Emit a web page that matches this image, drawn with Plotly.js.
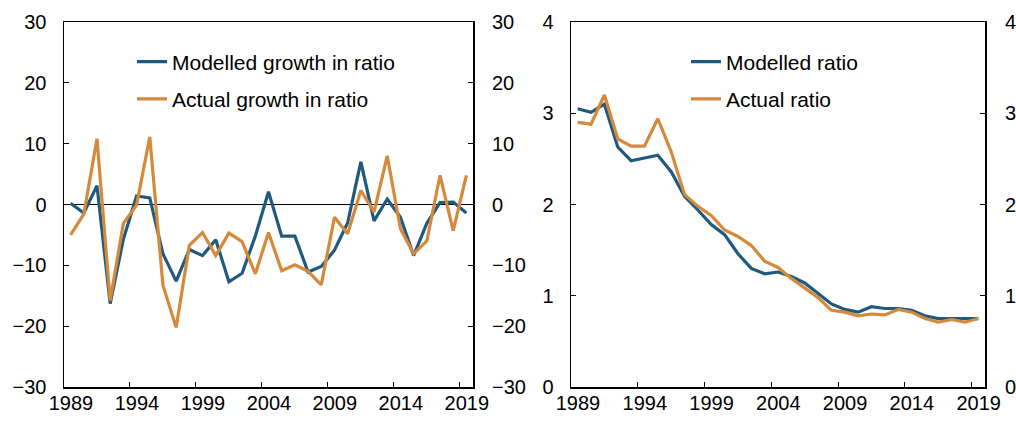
<!DOCTYPE html>
<html>
<head>
<meta charset="utf-8">
<script src="https://cdn.plot.ly/plotly-3.0.1.min.js"></script>
<style>
  html, body { margin: 0; padding: 0; background: #fff; }
  #chart { width: 1016px; height: 423px; }
</style>
</head>
<body>
<div id="chart"></div>
<script>
// Categories (years)
const years = [1989, 1990, 1991, 1992, 1993, 1994, 1995, 1996, 1997, 1998,
               1999, 2000, 2001, 2002, 2003, 2004, 2005, 2006, 2007, 2008,
               2009, 2010, 2011, 2012, 2013, 2014, 2015, 2016, 2017, 2018, 2019];

// Left panel: growth in ratio (per cent)
const modelledGrowth = [0.2, -1.4, 3.1, -16.3, -5.7, 1.4, 1.1, -8.1, -12.6, -7.4,
                        -8.4, -5.8, -12.7, -11.3, -5.2, 2.1, -5.2, -5.2, -11.1, -10.2,
                        -7.5, -3.0, 7.0, -2.7, 0.9, -2.1, -8.4, -3.1, 0.3, 0.4, -1.4];
const actualGrowth = [-5.0, -1.6, 10.8, -15.8, -3.1, -0.1, 11.1, -13.3, -20.2, -6.7,
                      -4.6, -8.4, -4.7, -6.1, -11.4, -4.6, -10.9, -9.9, -11.0, -13.2,
                      -2.1, -4.8, 2.3, -1.2, 8.0, -4.0, -8.1, -6.0, 4.8, -4.3, 4.8];

// Right panel: ratio level
const modelledRatio = [3.05, 3.01, 3.10, 2.63, 2.48, 2.51, 2.54, 2.36, 2.09, 1.94,
                       1.78, 1.67, 1.46, 1.30, 1.24, 1.26, 1.21, 1.14, 1.02, 0.91,
                       0.85, 0.82, 0.88, 0.86, 0.86, 0.84, 0.78, 0.75, 0.75, 0.75, 0.75];
const actualRatio = [2.90, 2.88, 3.20, 2.72, 2.64, 2.64, 2.94, 2.58, 2.11, 1.98,
                     1.88, 1.72, 1.65, 1.55, 1.38, 1.31, 1.19, 1.09, 0.98, 0.84,
                     0.82, 0.78, 0.80, 0.79, 0.85, 0.82, 0.75, 0.71, 0.74, 0.71, 0.75];

// Tick labels
const xTickLabels = ['1989', '1994', '1999', '2004', '2009', '2014', '2019'];
const xTickYears = [1989, 1994, 1999, 2004, 2009, 2014, 2019];
const leftYTicks = [-30, -20, -10, 0, 10, 20, 30];
const rightYTicks = [0, 1, 2, 3, 4];

const BLUE = '#1F5A7E';
const ORANGE = '#D4893B';
const FONT = 'Arial, "Liberation Sans", sans-serif';
const W = 1016;

// tick marks sit between categories
const xTickPos = xTickYears.map(y => y - 0.5);

const traces = [
  { x: years, y: modelledGrowth, name: 'Modelled growth in ratio', type: 'scatter', mode: 'lines',
    line: { color: BLUE, width: 3.2 }, xaxis: 'x', yaxis: 'y', legend: 'legend', legendgroup: 'a' },
  { x: years, y: actualGrowth, name: 'Actual growth in ratio', type: 'scatter', mode: 'lines',
    line: { color: ORANGE, width: 3.2 }, xaxis: 'x', yaxis: 'y', legend: 'legend', legendgroup: 'b' },
  { x: years, y: modelledRatio, name: 'Modelled ratio', type: 'scatter', mode: 'lines',
    line: { color: BLUE, width: 3.2 }, xaxis: 'x2', yaxis: 'y3', legend: 'legend2', legendgroup: 'c' },
  { x: years, y: actualRatio, name: 'Actual ratio', type: 'scatter', mode: 'lines',
    line: { color: ORANGE, width: 3.2 }, xaxis: 'x2', yaxis: 'y3', legend: 'legend2', legendgroup: 'd' },
  // invisible carriers so the mirrored right-hand axes get drawn
  { x: years, y: actualGrowth, type: 'scatter', mode: 'lines', line: { color: 'rgba(0,0,0,0)', width: 0 },
    xaxis: 'x', yaxis: 'y2', showlegend: false, hoverinfo: 'skip' },
  { x: years, y: actualRatio, type: 'scatter', mode: 'lines', line: { color: 'rgba(0,0,0,0)', width: 0 },
    xaxis: 'x2', yaxis: 'y4', showlegend: false, hoverinfo: 'skip' }
];

const xCommon = {
  range: [years[0] - 0.5, years[years.length - 1] + 0.5],
  tickmode: 'array', tickvals: xTickPos, ticktext: xTickLabels,
  ticks: 'inside', ticklen: 5, tickwidth: 1, tickcolor: '#000',
  showline: true, linecolor: '#000', linewidth: 1.5, mirror: true,
  showgrid: false, zeroline: false,
  tickfont: { family: FONT, size: 20, color: '#000' },
  ticklabelstandoff: -3,
  fixedrange: true
};
const yCommon = {
  ticks: 'inside', ticklen: 5, tickwidth: 1, tickcolor: '#000',
  showgrid: false,
  tickfont: { family: FONT, size: 20, color: '#000' },
  ticklabelstandoff: 12,
  fixedrange: true
};

const d1 = [64 / W, 473 / W];
const d2 = [571 / W, 985 / W];

const layout = {
  width: 1016, height: 423,
  margin: { l: 0, r: 0, t: 22, b: 36 },
  paper_bgcolor: '#fff', plot_bgcolor: '#fff',
  font: { family: FONT, color: '#000' },
  showlegend: true,
  xaxis: Object.assign({}, xCommon, { domain: d1, anchor: 'y', ticklabelshift: 7 }),
  xaxis2: Object.assign({}, xCommon, { domain: d2, anchor: 'y3', ticklabelshift: 7 }),
  yaxis: Object.assign({}, yCommon, {
    domain: [0, 1], anchor: 'x', range: [-30, 30], tickmode: 'array', tickvals: leftYTicks,
    showline: true, linecolor: '#000', linewidth: 1.5, mirror: true,
    zeroline: true, zerolinecolor: '#000', zerolinewidth: 1.5
  }),
  yaxis2: Object.assign({}, yCommon, {
    overlaying: 'y', side: 'right', anchor: 'x', range: [-30, 30], tickmode: 'array', tickvals: leftYTicks,
    showline: false, zeroline: false, ticklabelstandoff: 18
  }),
  yaxis3: Object.assign({}, yCommon, {
    domain: [0, 1], anchor: 'x2', range: [0, 4], tickmode: 'array', tickvals: rightYTicks,
    showline: true, linecolor: '#000', linewidth: 1.5, mirror: true, zeroline: false
  }),
  yaxis4: Object.assign({}, yCommon, {
    overlaying: 'y3', side: 'right', anchor: 'x2', range: [0, 4], tickmode: 'array', tickvals: rightYTicks,
    showline: false, zeroline: false, ticklabelstandoff: 19
  }),
  legend: {
    x: 132 / W, xanchor: 'left', y: 1 - (41.5 - 22) / 365, yanchor: 'top', yref: 'paper',
    bgcolor: 'rgba(0,0,0,0)', borderwidth: 0,
    font: { family: FONT, size: 21, color: '#000' },
    traceorder: 'grouped', tracegroupgap: 7
  },
  legend2: {
    x: 686 / W, xanchor: 'left', y: 1 - (41.5 - 22) / 365, yanchor: 'top', yref: 'paper',
    bgcolor: 'rgba(0,0,0,0)', borderwidth: 0,
    font: { family: FONT, size: 21, color: '#000' },
    traceorder: 'grouped', tracegroupgap: 7
  }
};

Plotly.newPlot('chart', traces, layout, { displayModeBar: false, staticPlot: true });
</script>
</body>
</html>
